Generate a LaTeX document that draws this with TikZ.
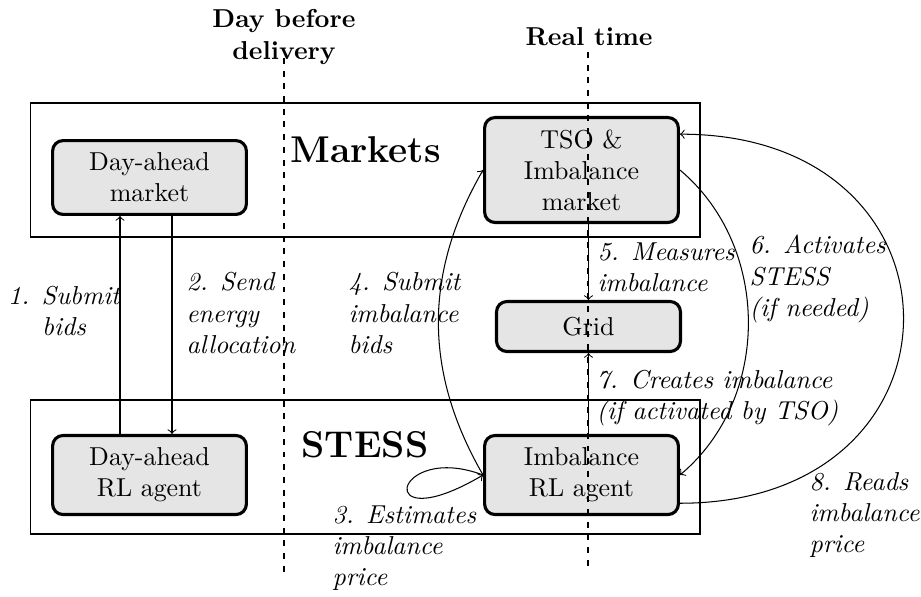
\documentclass[tikz,border=0pt]{standalone}
\usetikzlibrary{calc}
\begin{document}
\begin{tikzpicture}[x=0.386pt,y=-0.386pt,
  box/.style={draw, very thick, rounded corners=4pt, fill=gray!20, align=center, inner sep=1pt, minimum width=74.8pt},
  area/.style={draw, thin},
  lbl/.style={font=\itshape, align=left, anchor=west, inner sep=0pt},
  sep/.style={dash pattern=on 2.3pt off 2.6pt},
  conn/.style={->}]
\useasboundingbox (0,0) rectangle (921,596);
% areas
\draw[area] (30.5,103) rectangle (700,237);
\draw[area] (30.5,400) rectangle (700,534);
% nodes
\node[box, minimum height=28.5pt] (DAM) at (149.5,177.5) {Day-ahead\\market};
\node[box, minimum height=40.5pt] (TSO) at (581.5,170) {TSO \&\\Imbalance\\market};
\node[box, minimum width=71pt, minimum height=19.3pt] (GRID) at (588.5,326.5) {Grid};
\node[box, minimum height=30.5pt] (DRL) at (149.5,475) {Day-ahead\\RL agent};
\node[box, minimum height=30.5pt] (IRL) at (581.5,475) {Imbalance\\RL agent};
% headers
\node[font=\bfseries, align=center] (h1) at (284,37) {Day before\\delivery};
\node[font=\bfseries] (h2) at (589,37) {Real time};
\node[font=\Large\bfseries] (mk) at (365.5,150) {Markets};
\node[font=\Large\bfseries] (st) at (365,445) {STESS};
% time separators
\coordinate (d1t) at (284,58);
\coordinate (d1b) at (284,572);
\coordinate (d2t) at (588,52);
\coordinate (d2b) at (588,572);
\draw[sep] (d1t) -- (d1b);
\draw[sep] (d2t) -- (d2b);
% connectors
\draw[conn] ($(DRL.north)+(-29.5,0)$) -- ($(DAM.south)+(-29.5,0)$);
\draw[conn] ($(DAM.south)+(22.5,0)$) -- ($(DRL.north)+(22.5,0)$);
\draw[conn] (TSO.south -| GRID.north) -- (GRID.north);
\draw[conn] (IRL.north -| GRID.south) -- (GRID.south);
\draw[conn] (IRL.west) to[bend left=30] (TSO.west);
\draw[conn] (IRL.west) .. controls +(-90,-34) and +(-112,66) .. (IRL.west);
\draw[conn] (TSO.east) to[bend left=50] (IRL.east);
\draw[conn] (IRL.-16) to[out=0,in=0,looseness=2.07] (TSO.20);
% labels
\node[lbl, align=center, anchor=center] (l1) at (64,311) {1. Submit\\bids};
\node[lbl] (l2) at (186,313) {2. Send\\energy\\allocation};
\node[lbl] (l4) at (348,313) {4. Submit\\imbalance\\bids};
\node[lbl] (l3) at (332,548) {3. Estimates\\imbalance\\price};
\node[lbl] (l5) at (597,267) {5. Measures\\imbalance};
\node[lbl] (l6) at (749,279) {6. Activates\\STESS\\(if needed)};
\node[lbl] (l7) at (596,398) {7. Creates imbalance\\(if activated by TSO)};
\node[lbl] (l8) at (809,515) {8. Reads\\imbalance\\price};
\end{tikzpicture}
\end{document}
